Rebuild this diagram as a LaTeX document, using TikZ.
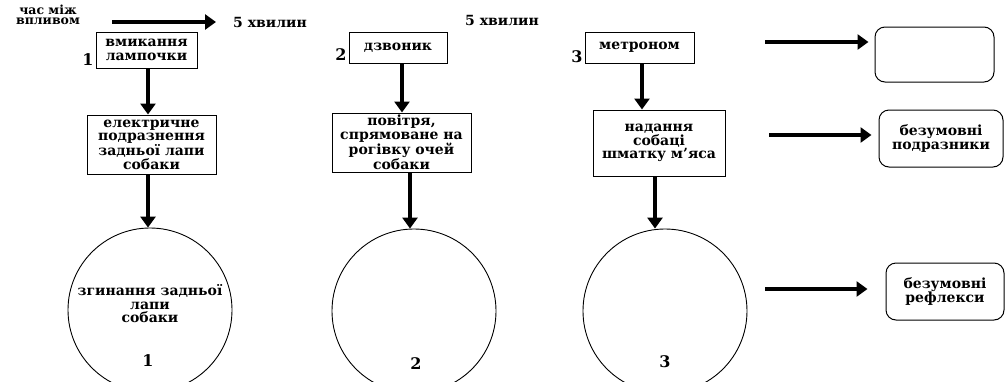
\documentclass[tikz,border=0pt]{standalone}
\usepackage{fontspec}
\setmainfont{DejaVu Serif}
\usetikzlibrary{arrows.meta}
\begin{document}
\begin{tikzpicture}[x=1pt,y=-1pt,
  txt/.style={font=\bfseries\fontsize{14}{13.5}\selectfont, align=center, inner sep=0pt},
  num/.style={font=\bfseries\fontsize{16}{16}\selectfont, inner sep=0pt},
  box/.style={txt, draw, line width=1pt},
  rbox/.style={txt, draw, line width=1pt, rounded corners=10pt},
  circ/.style={draw, circle, line width=0.9pt, minimum size=164pt, inner sep=0pt},
  arr/.style={line width=4pt, -{Triangle[length=11pt,width=15pt]}}]
\useasboundingbox (0,0) rectangle (1005,381);
\clip (0,0) rectangle (1005,381);
% top labels
\node[txt, font=\bfseries\fontsize{12.5}{10.5}\selectfont] (time) at (48,15) {час між\\впливом};
\node[txt] (min1) at (270,22) {5 хвилин};
\node[txt] (min2) at (502,20) {5 хвилин};
\coordinate (ta) at (112,22);
\coordinate (tb) at (216,22);
\draw[arr] (ta) -- (tb);
% column 1
\node[box, minimum width=101pt, minimum height=36pt] (b1) at (146.5,50) {вмикання\\лампочки};
\node[num] (n1) at (88,60) {1};
\node[box, minimum width=129pt, minimum height=59pt] (b2) at (151.5,144.5) {електричне\\подразнення\\задньої лапи\\собаки};
\node[circ] (c1) at (150,310) {};
\node[txt] (c1t) at (150,304) {згинання задньої\\лапи\\собаки};
\node[num] (c1n) at (148,361) {1};
\draw[arr] (b1.south -| 148,0) -- (148,0 |- b2.north);
\draw[arr] (b2.south -| 148,0) -- (148,0 |- c1.north);
% column 2
\node[box, minimum width=98pt, minimum height=31pt] (d1) at (398,47.5) {дзвоник};
\node[num] (n2) at (341,55) {2};
\node[box, minimum width=139pt, minimum height=59pt] (d2) at (401.5,142.5) {повітря,\\спрямоване на\\рогівку очей\\собаки};
\node[circ] (c2) at (414,311) {};
\node[num] (c2n) at (416,364) {2};
\draw[arr] (d1.south -| 402,0) -- (402,0 |- d2.north);
\draw[arr] (d2.south -| 410,0) -- (410,0 |- c2.north);
% column 3
\node[box, minimum width=109pt, minimum height=31pt] (m1) at (639.5,47.5) {метроном};
\node[num] (n3) at (577,57) {3};
\node[box, minimum width=132pt, minimum height=66pt] (m2) at (659,143) {надання\\собаці\\шматку м\char39 яса};
\node[circ] (c3) at (665,311) {};
\node[num] (c3n) at (665,362) {3};
\draw[arr] (m1.south -| 642,0) -- (642,0 |- m2.north);
\draw[arr] (m2.south -| 655,0) -- (655,0 |- c3.north);
% right column
\node[rbox, minimum width=119pt, minimum height=55pt] (r1) at (934.5,54.5) {};
\node[rbox, minimum width=124pt, minimum height=57pt] (r2) at (941,138.5) {безумовні\\подразники};
\node[rbox, minimum width=118pt, minimum height=57pt] (r3) at (945,291.5) {безумовні\\рефлекси};
\coordinate (a1) at (765,42);
\coordinate (a2) at (769,135);
\coordinate (a3) at (765,289);
\draw[arr, shorten >=6pt] (a1) -- (a1 -| r1.west);
\draw[arr, shorten >=7pt] (a2) -- (a2 -| r2.west);
\draw[arr, shorten >=18pt] (a3) -- (a3 -| r3.west);
\end{tikzpicture}
\end{document}
